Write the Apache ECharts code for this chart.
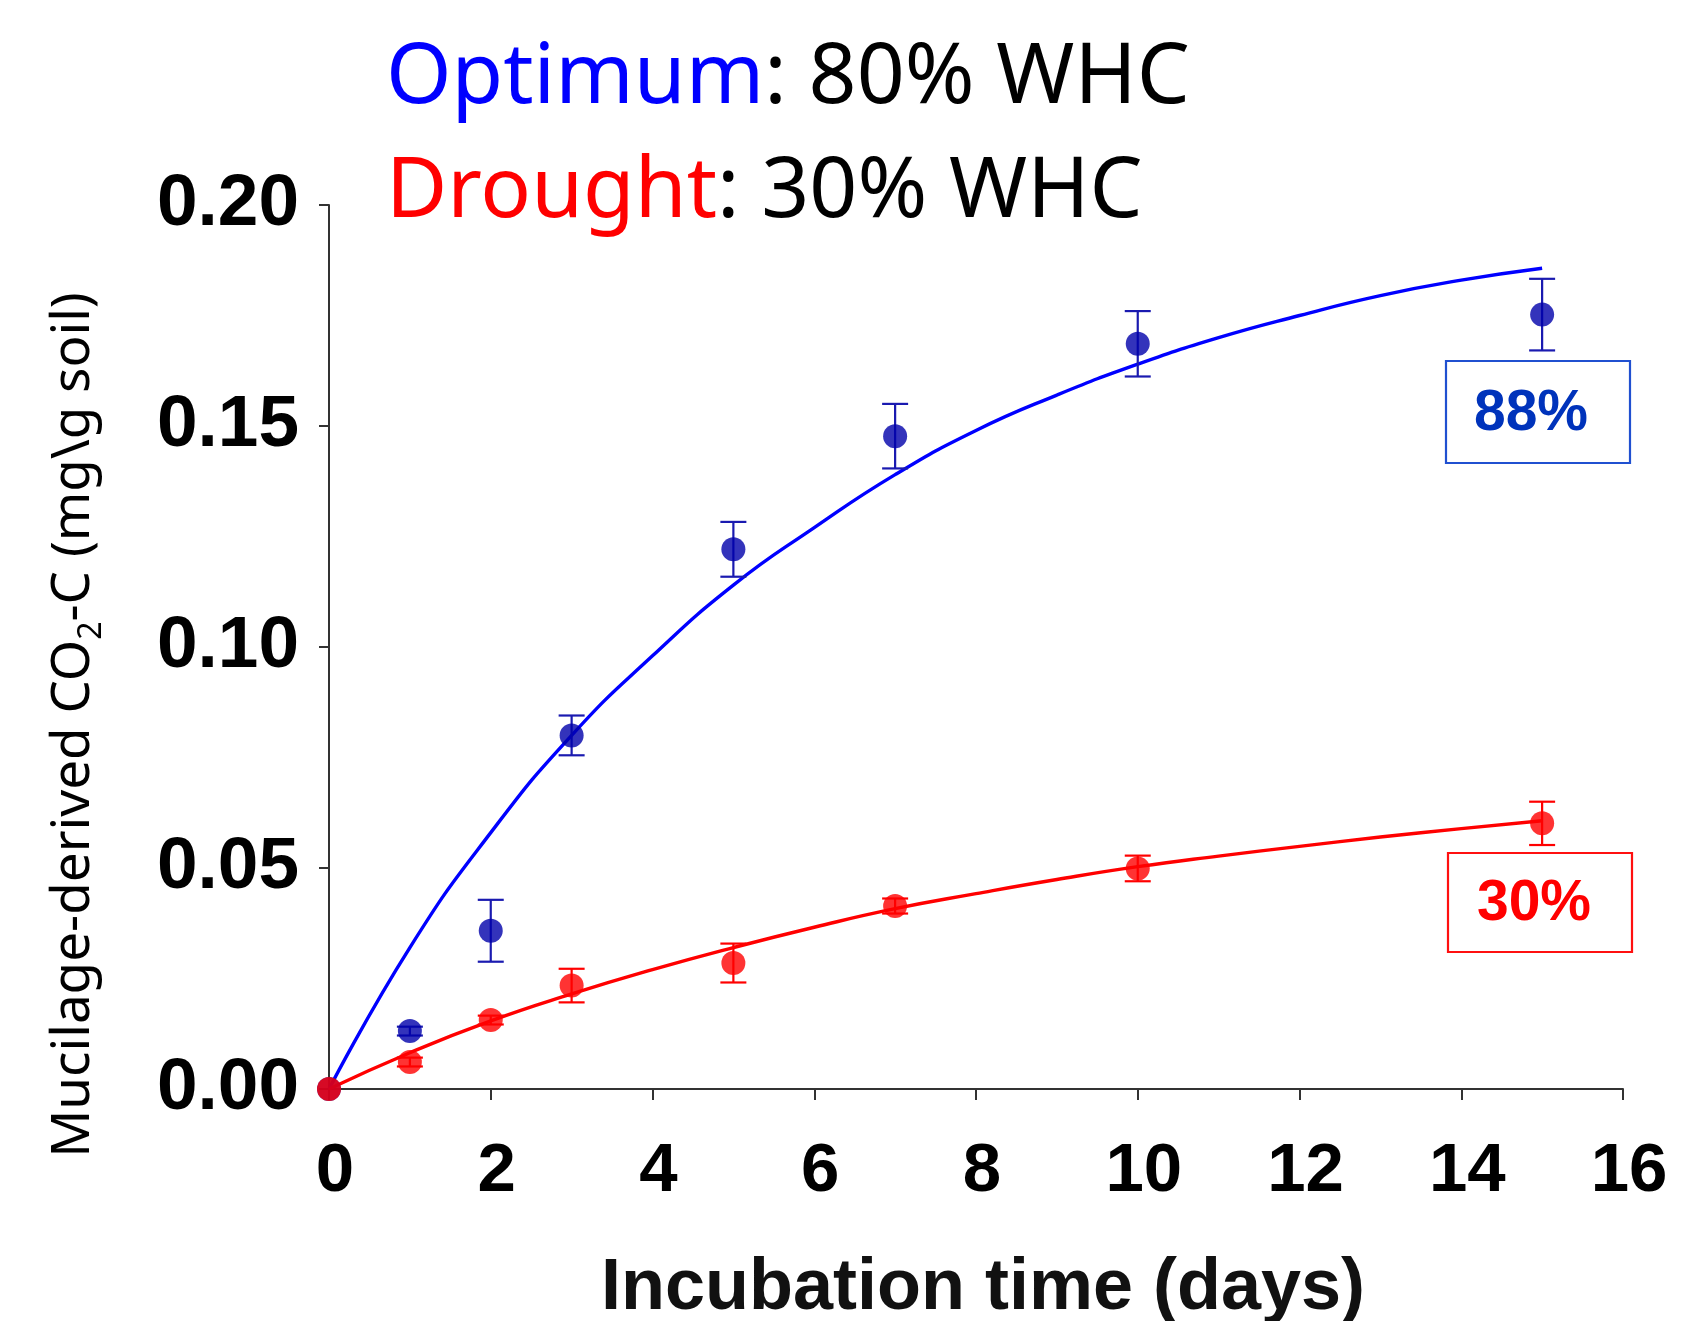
<!DOCTYPE html>
<html>
<head>
<meta charset="utf-8">
<script src="https://cdn.jsdelivr.net/npm/echarts@6/dist/echarts.min.js"></script>
<style>
html,body{margin:0;padding:0;background:#fff;}
#chart{width:1688px;height:1321px;}
</style>
</head>
<body>
<div id="chart"></div>
<script>
// ---- data ----
const days = [0, 1, 2, 3, 5, 7, 10, 15];
const optimumMean = [0, 0.0131, 0.0358, 0.0800, 0.1221, 0.1477, 0.1686, 0.1752];
const optimumErr  = [0, 0.0010, 0.0070, 0.0045, 0.0062, 0.0073, 0.0074, 0.0081];
const droughtMean = [0, 0.0061, 0.0156, 0.0234, 0.0285, 0.0414, 0.0499, 0.0601];
const droughtErr  = [0, 0.0010, 0.0010, 0.0038, 0.0044, 0.0017, 0.0029, 0.0049];

const fitDays    = [0, 1, 2, 3, 4, 5, 6, 7, 8, 9, 10, 11, 12, 13, 14, 15];
const optimumFit = [0, 0.032, 0.058, 0.080, 0.098, 0.114, 0.127, 0.139, 0.149, 0.157, 0.164, 0.170, 0.175, 0.1795, 0.183, 0.1857];
const droughtFit = [0, 0.0082, 0.0154, 0.0215, 0.0270, 0.0320, 0.0366, 0.0408, 0.0442, 0.0474, 0.0503, 0.0527, 0.0549, 0.0570, 0.0589, 0.0607];

const xTicks = [0, 2, 4, 6, 8, 10, 12, 14, 16];
const yTicks = ['0.00', '0.05', '0.10', '0.15', '0.20'];

const titleLine1 = ['Optimum', ': 80% WHC'];
const titleLine2 = ['Drought', ': 30% WHC'];
const boxLabels = ['88%', '30%'];
const xName = 'Incubation time (days)';
const yNameParts = ['Mucilage-derived CO', '2', '-C (mg\\g soil)'];

// ---- chart ----
const chart = echarts.init(document.getElementById('chart'));

function pairs(xs, ys) { return xs.map((x, i) => [x, ys[i]]); }
function errData(xs, m, e) {
  return xs.map((x, i) => [x, m[i] - e[i], m[i] + e[i], e[i]]);
}
function errRender(color) {
  return function (params, api) {
    if (api.value(3) <= 0) return null;
    const x = api.value(0);
    const lo = api.coord([x, api.value(1)]);
    const hi = api.coord([x, api.value(2)]);
    const w = 13;
    const st = { stroke: color, lineWidth: 2.2 };
    return {
      type: 'group',
      children: [
        { type: 'line', shape: { x1: lo[0], y1: lo[1], x2: hi[0], y2: hi[1] }, style: st },
        { type: 'line', shape: { x1: lo[0] - w, y1: lo[1], x2: lo[0] + w, y2: lo[1] }, style: st },
        { type: 'line', shape: { x1: hi[0] - w, y1: hi[1], x2: hi[0] + w, y2: hi[1] }, style: st }
      ]
    };
  };
}

const tickFontBase = {
  fontFamily: '"Liberation Sans", Arial, sans-serif',
  fontWeight: 'bold',
  color: '#000'
};

const option = {
  animation: false,
  backgroundColor: '#fff',
  grid: { left: 329, right: 65, top: 205, bottom: 232, containLabel: false, outerBoundsMode: 'none' },
  xAxis: {
    type: 'value',
    min: 0, max: 16, interval: 2,
    name: xName,
    nameLocation: 'middle',
    nameGap: 164,
    nameTextStyle: {
      fontFamily: '"Liberation Sans", Arial, sans-serif',
      fontWeight: 'bold', fontSize: 72, color: '#111',
      verticalAlign: 'top', padding: [0, 0, 0, 14]
    },
    axisLine: { show: true, onZero: false, lineStyle: { color: '#333', width: 2 } },
    axisTick: { show: true, length: 11, lineStyle: { color: '#333', width: 2 } },
    splitLine: { show: false },
    axisLabel: Object.assign({}, tickFontBase, {
      fontSize: 69,
      margin: 48,
      padding: [0, 0, 0, 12],
      formatter: function (v) { return xTicks.indexOf(v) >= 0 ? String(v) : ''; }
    })
  },
  yAxis: {
    type: 'value',
    min: 0, max: 0.2, interval: 0.05,
    axisLine: { show: true, onZero: false, lineStyle: { color: '#333', width: 2 } },
    axisTick: { show: true, length: 10, lineStyle: { color: '#333', width: 2 } },
    splitLine: { show: false },
    axisLabel: Object.assign({}, tickFontBase, {
      fontSize: 73,
      margin: 30,
      formatter: function (v) { return yTicks[Math.round(v / 0.05)]; }
    })
  },
  series: [
    {
      name: 'Optimum fit', type: 'line', data: pairs(fitDays, optimumFit),
      smooth: 0.5, showSymbol: false, symbol: 'none', z: 2,
      lineStyle: { color: '#0000FF', width: 3.4 }
    },
    {
      name: 'Drought fit', type: 'line', data: pairs(fitDays, droughtFit),
      smooth: 0.5, showSymbol: false, symbol: 'none', z: 2,
      lineStyle: { color: '#FF0000', width: 3.4 }
    },
    {
      name: 'Optimum error', type: 'custom', data: errData(days, optimumMean, optimumErr),
      renderItem: errRender('#1A1AB0'), z: 3, clip: false
    },
    {
      name: 'Drought error', type: 'custom', data: errData(days, droughtMean, droughtErr),
      renderItem: errRender('#FF0000'), z: 3, clip: false
    },
    {
      name: 'Optimum', type: 'scatter', data: pairs(days, optimumMean),
      symbol: 'circle', symbolSize: 24, z: 4, clip: false,
      itemStyle: { color: '#0000AA' }
    },
    {
      name: 'Drought', type: 'scatter', data: pairs(days, droughtMean),
      symbol: 'circle', symbolSize: 24, z: 5, clip: false,
      itemStyle: { color: '#FF0000' }
    }
  ],
  graphic: [
    {
      type: 'text', left: 386, top: 37, z: 10,
      style: {
        text: '{a|' + titleLine1[0] + '}{b|' + titleLine1[1] + '}',
        rich: {
          a: { fontFamily: '"Noto Sans", sans-serif', fontSize: 84, fill: '#0000FF', color: '#0000FF' },
          b: { fontFamily: '"Noto Sans", sans-serif', fontSize: 84, fill: '#000', color: '#000' }
        }
      }
    },
    {
      type: 'text', left: 386, top: 151, z: 10,
      style: {
        text: '{a|' + titleLine2[0] + '}{b|' + titleLine2[1] + '}',
        rich: {
          a: { fontFamily: '"Noto Sans", sans-serif', fontSize: 84, fill: '#FF0000', color: '#FF0000' },
          b: { fontFamily: '"Noto Sans", sans-serif', fontSize: 84, fill: '#000', color: '#000' }
        }
      }
    },
    {
      type: 'text', x: 70, y: 725, rotation: Math.PI / 2, z: 10,
      style: {
        text: '{a|' + yNameParts[0] + '}{s|' + yNameParts[1] + '}{a|' + yNameParts[2] + '}',
        align: 'center', verticalAlign: 'middle',
        rich: {
          a: { fontFamily: '"Noto Sans", sans-serif', fontSize: 53, fill: '#000', color: '#000', lineHeight: 60, verticalAlign: 'bottom' },
          s: { fontFamily: '"Noto Sans", sans-serif', fontSize: 32, fill: '#000', color: '#000', lineHeight: 60, verticalAlign: 'bottom', padding: [0, 0, -8, 0] }
        }
      }
    },
    {
      type: 'group', z: 10,
      children: [
        { type: 'rect', shape: { x: 1446, y: 361, width: 184, height: 102 },
          style: { fill: '#fff', stroke: '#2050D0', lineWidth: 2.2 } },
        { type: 'text', x: 1531, y: 414,
          style: { text: boxLabels[0], align: 'center', verticalAlign: 'middle',
            fontFamily: '"Liberation Sans", Arial, sans-serif', fontWeight: 'bold',
            fontSize: 57, fill: '#0033BB' } },
        { type: 'rect', shape: { x: 1448, y: 853, width: 184, height: 99 },
          style: { fill: '#fff', stroke: '#FF1010', lineWidth: 2.2 } },
        { type: 'text', x: 1534, y: 904,
          style: { text: boxLabels[1], align: 'center', verticalAlign: 'middle',
            fontFamily: '"Liberation Sans", Arial, sans-serif', fontWeight: 'bold',
            fontSize: 57, fill: '#FF0000' } }
      ]
    }
  ]
};
chart.setOption(option);
</script>
</body>
</html>
